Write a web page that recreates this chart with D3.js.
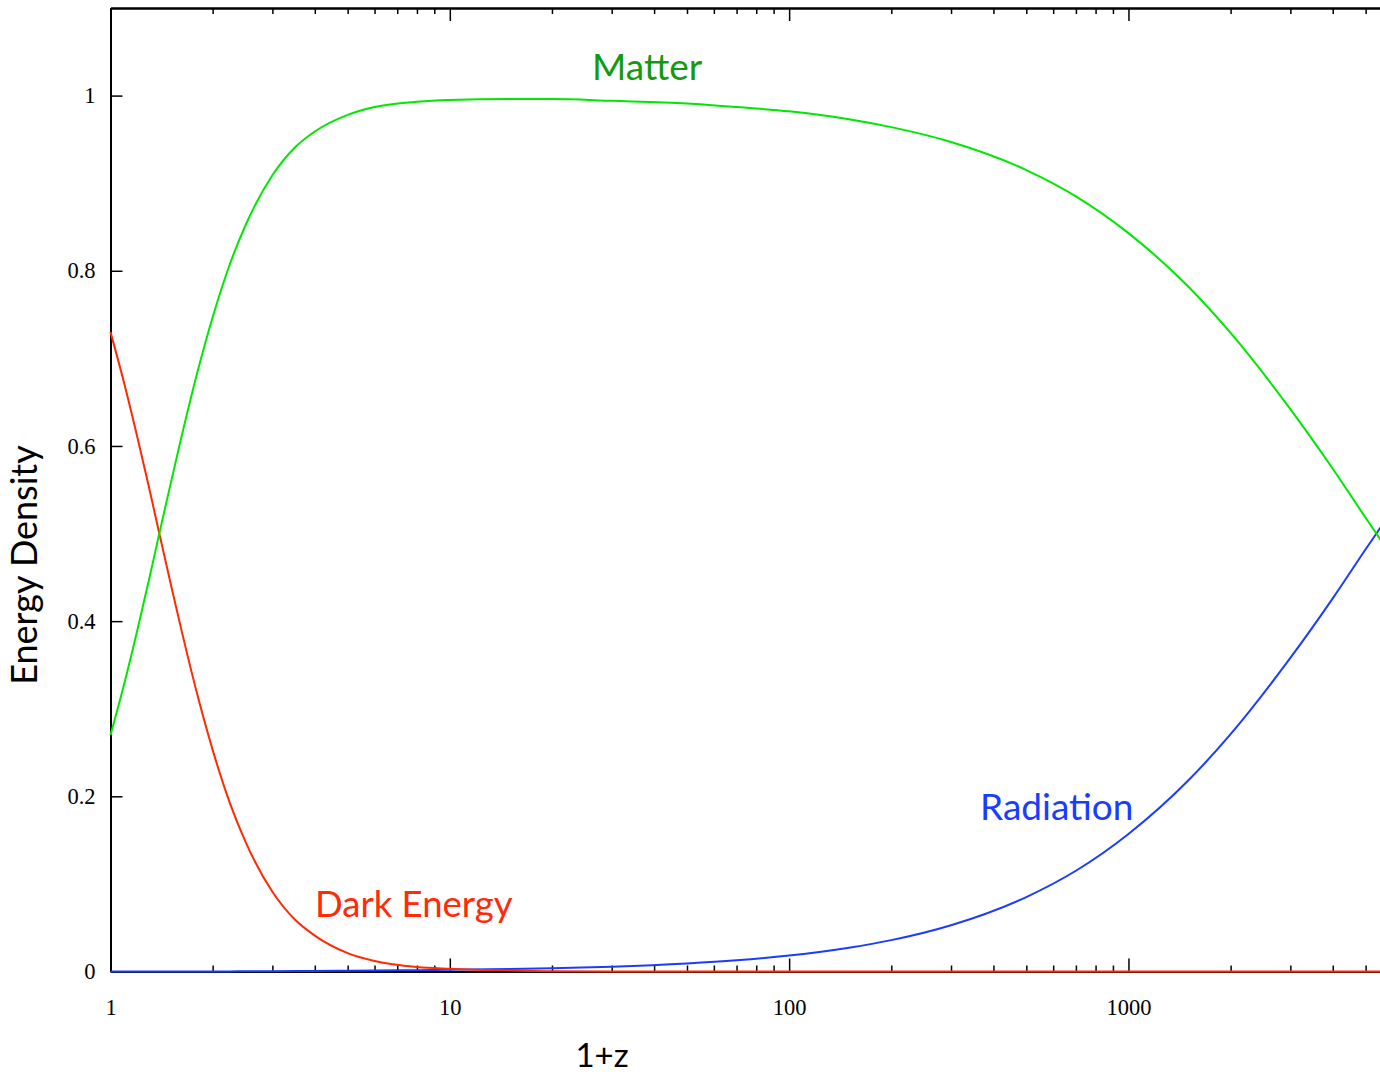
<!DOCTYPE html>
<html>
<head>
<meta charset="utf-8">
<script src="https://cdn.jsdelivr.net/npm/d3@7"></script>
<style>
  body { margin: 0; background: #fff; }
  .tick text { font-family: "Liberation Serif", "Times New Roman", serif; font-size: 22.5px; fill: #000; }
  .label { font-family: Lato, "Noto Sans", sans-serif; }
</style>
</head>
<body>
<div id="chart"></div>
<script>
// 1+z sample points
const zValues = [1, 1.1, 1.2, 1.3, 1.4, 1.5, 1.6, 1.8, 2, 2.25,
    2.5, 3, 3.5, 4, 5, 6, 8, 10, 15, 20,
    30, 50, 70, 100, 150, 200, 300, 500, 700, 1000,
    1500, 2000, 3000, 4000, 5000, 6000];

const matter = [0.270, 0.330, 0.390, 0.448, 0.504, 0.555, 0.602, 0.683, 0.747, 0.808,
    0.852, 0.909, 0.941, 0.959, 0.978, 0.987, 0.993, 0.995, 0.996, 0.996,
    0.994, 0.991, 0.987, 0.982, 0.973, 0.964, 0.947, 0.915, 0.885, 0.843,
    0.782, 0.729, 0.642, 0.574, 0.518, 0.473];

const darkEnergy = [0.730, 0.670, 0.610, 0.552, 0.496, 0.445, 0.398, 0.317, 0.253, 0.192,
    0.148, 0.091, 0.059, 0.041, 0.021, 0.012, 0.005, 0.003, 0.001, 0.0003,
    0, 0, 0, 0, 0, 0, 0, 0, 0, 0,
    0, 0, 0, 0, 0, 0];

const radiation = [0, 0, 0, 0, 0, 0, 0, 0, 0, 0.0001,
    0.0002, 0.0003, 0.0005, 0.0007, 0.0009, 0.0011, 0.0015, 0.0019, 0.0028, 0.0037,
    0.0055, 0.0092, 0.0128, 0.0182, 0.0271, 0.0358, 0.0528, 0.085, 0.115, 0.157,
    0.218, 0.271, 0.358, 0.426, 0.482, 0.527];

// axis ticks
const xMajor = [1, 10, 100, 1000];
const xMajorLabels = ["1", "10", "100", "1000"];
const yTicks = [0, 0.2, 0.4, 0.6, 0.8, 1];
const yTickLabels = ["0", "0.2", "0.4", "0.6", "0.8", "1"];

// minor ticks 2..9 in each decade
const xMinor = [];
[1, 10, 100, 1000].forEach(d => {
    for (let k = 2; k <= 9; k++) if (d * k < 6000) xMinor.push(d * k);
});

const margin = {top: 8, left: 110.5};
const width = 1282;      // plot runs slightly past the right edge of the page
const height = 963.5;

const svg = d3.select("#chart")
    .append("svg")
    .attr("width", 1380)
    .attr("height", 1075)
    .style("display", "block");

const g = svg.append("g")
    .attr("transform", `translate(${margin.left},${margin.top})`);

const x = d3.scaleLog().domain([1, 6000]).range([0, width]);
const y = d3.scaleLinear().domain([0, 1.1]).range([height, 0]);

// ---- axes ----
function styleAxis(sel) {
    sel.select(".domain").attr("stroke", "#000").attr("stroke-width", 2);
    sel.selectAll(".tick line").attr("stroke", "#000").attr("stroke-width", 1.5);
}

// bottom
g.append("g")
    .attr("transform", `translate(0,${height})`)
    .call(d3.axisBottom(x).tickValues(xMinor).tickSize(-6).tickSizeOuter(0).tickFormat(""))
    .call(styleAxis);
g.append("g")
    .attr("transform", `translate(0,${height})`)
    .call(d3.axisBottom(x).tickValues(xMajor).tickSize(-13).tickSizeOuter(0).tickPadding(28)
        .tickFormat((d, i) => xMajorLabels[i]))
    .call(styleAxis);

// top
g.append("g")
    .call(d3.axisTop(x).tickValues(xMinor).tickSize(-6).tickSizeOuter(0).tickFormat(""))
    .call(styleAxis);
g.append("g")
    .call(d3.axisTop(x).tickValues(xMajor).tickSize(-13).tickSizeOuter(0).tickFormat(""))
    .call(styleAxis);

// left
g.append("g")
    .call(d3.axisLeft(y).tickValues(yTicks).tickSize(-12).tickSizeOuter(0).tickPadding(15)
        .tickFormat((d, i) => yTickLabels[i]))
    .call(styleAxis);

// right
g.append("g")
    .attr("transform", `translate(${width},0)`)
    .call(d3.axisRight(y).tickValues(yTicks).tickSize(-12).tickSizeOuter(0).tickFormat(""))
    .call(styleAxis);

// ---- lines ----
const line = d3.line()
    .x(d => x(d[0]))
    .y(d => y(d[1]))
    .curve(d3.curveMonotoneX);

const series = [
    {name: "Radiation", values: radiation, color: "#1a3cff"},
    {name: "Dark Energy", values: darkEnergy, color: "#ff2a00"},
    {name: "Matter", values: matter, color: "#00e800"}
];

series.forEach(s => {
    g.append("path")
        .datum(zValues.map((z, i) => [z, s.values[i]]))
        .attr("fill", "none")
        .attr("stroke", s.color)
        .attr("stroke-width", 2)
        .attr("d", line);
});

// ---- curve labels ----
svg.append("text").attr("class", "label")
    .attr("x", 592).attr("y", 80)
    .attr("font-size", 37).attr("fill", "#129a12")
    .text("Matter");

svg.append("text").attr("class", "label")
    .attr("x", 315).attr("y", 917)
    .attr("font-size", 36.5).attr("fill", "#ff2a0a")
    .text("Dark Energy");

svg.append("text").attr("class", "label")
    .attr("x", 980).attr("y", 820)
    .attr("font-size", 37).attr("fill", "#1a3cff")
    .text("Radiation");

// ---- axis titles ----
svg.append("text").attr("class", "label")
    .attr("x", 602).attr("y", 1067)
    .attr("text-anchor", "middle")
    .attr("font-size", 33).attr("fill", "#000")
    .text("1+z");

svg.append("text").attr("class", "label")
    .attr("transform", "translate(37,565) rotate(-90)")
    .attr("text-anchor", "middle")
    .attr("font-size", 36).attr("fill", "#000")
    .text("Energy Density");
</script>
</body>
</html>
